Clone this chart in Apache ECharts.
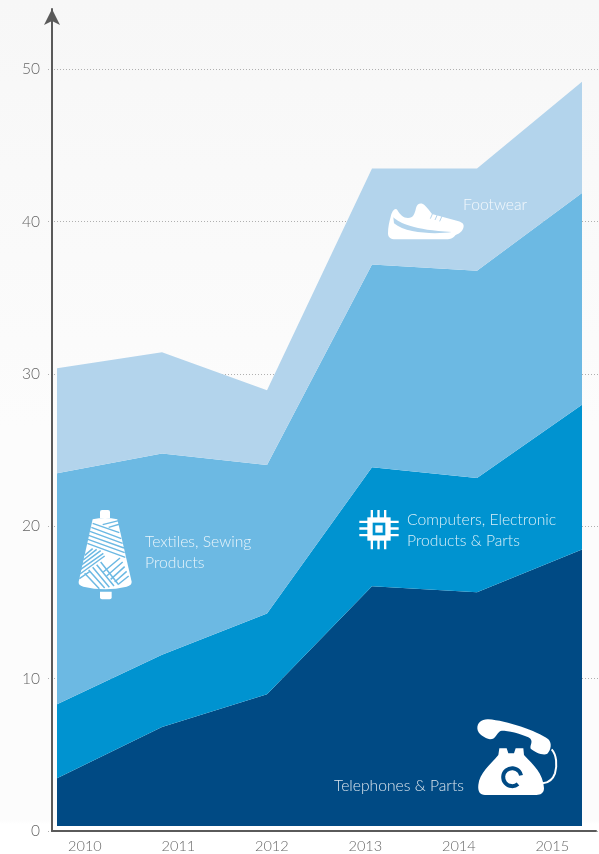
<!DOCTYPE html>
<html>
<head>
<meta charset="utf-8">
<style>html,body{margin:0;padding:0;background:#fff}#main{width:599px;height:854px}</style>
<script src="https://cdn.jsdelivr.net/npm/echarts@6/dist/echarts.min.js"></script>
</head>
<body>
<div id="main"></div>
<script>
var years = ['2010', '2011', '2012', '2013', '2014', '2015'];
var telephones = [3.5, 6.85, 9.0, 16.1, 15.7, 18.5];
var computers = [4.85, 4.75, 5.3, 7.8, 7.5, 9.5];
var textiles = [15.15, 13.2, 9.75, 13.3, 13.6, 13.9];
var footwear = [6.9, 6.65, 4.9, 6.3, 6.7, 7.3];

var darkBlue = '#004a84', midBlue = '#0093d0', skyBlue = '#6cb9e3', paleBlue = '#b3d4ec';
var axisColor = '#5a5a5a', tickColor = '#666666', labelColor = 'rgba(255,255,255,0.85)';

var myChart = echarts.init(document.getElementById('main'));

function area(name, values, color) {
    return {
        name: name,
        type: 'line',
        stack: 'total',
        xAxisIndex: 2,
        yAxisIndex: 2,
        data: values,
        symbol: 'none',
        lineStyle: {width: 0},
        areaStyle: {color: color, opacity: 1}
    };
}

function label(text, x, y) {
    return {
        type: 'text',
        x: x,
        y: y,
        z: 20,
        style: {text: text, fill: labelColor, font: '300 15.7px Lato', lineHeight: 21, textVerticalAlign: 'middle'}
    };
}

// icons are drawn in the 3x coordinates of the zoomed crops
function icon(x, y, children) {
    return {type: 'group', x: x, y: y, scaleX: 1 / 3, scaleY: 1 / 3, children: children};
}
function fill(path, color) {
    return {type: 'path', shape: {pathData: path}, style: {fill: color}};
}
function stroke(path, color, width) {
    return {type: 'path', shape: {pathData: path}, style: {fill: 'none', stroke: color, lineWidth: width}};
}

var phone = icon(440, 700, [
    fill('M112 85C112 68 125 57 145 58C200 62 290 92 325 118C336 128 334 150 322 161C310 168 285 157 272 146C268 136 284 122 265 112C240 100 205 92 185 92C170 94 170 118 150 118C135 115 112 102 112 85Z', '#fff'),
    stroke('M335 148C350 165 352 195 345 220C338 240 325 248 308 250', '#fff', 6),
    fill('M175 165L178 145H200L205 160H222L227 145H250L252 165C280 195 310 220 312 265C312 280 300 285 290 285H135C120 285 113 275 115 255C118 220 150 195 175 165Z', '#fff'),
    stroke('M234 252A27 27 0 1 1 243 226', darkBlue, 12)
]);

var spool = icon(60, 490, [
    fill('M120 66Q120 60 126 60H144Q150 60 150 66V84H120Z', '#fff'),
    fill('M120 305H155V322Q155 328 149 328H126Q120 328 120 322Z', '#fff'),
    fill('M98 88Q135 80 172 88L215 275Q216 285 200 290Q135 305 70 290Q54 285 56 275Z', '#fff'),
    // upper band
    stroke('M98 100L178 128M94 112L184 146M90 124L188 160M86 136L192 174M84 148L194 188M82 160L196 202', skyBlue, 4.5),
    stroke('M128 104L176 92M146 112L180 102', skyBlue, 4),
    // lower left band
    stroke('M74 196L98 176M70 210L110 178M66 224L122 182M62 238L130 190M60 252L134 198M58 266L90 244', skyBlue, 4.5),
    // centre band
    stroke('M74 250L118 296M86 240L134 294M98 232L148 292M110 224L162 288M122 216L176 284', skyBlue, 4.5),
    // lower right band
    stroke('M130 246L180 204M140 258L188 216M152 268L194 230M164 276L200 244M176 282L206 258', skyBlue, 4.5)
]);

var shoe = icon(350, 190, [
    fill('M114 130C114 110 118 95 122 80C126 62 136 52 142 60C150 74 160 84 174 84C190 84 194 72 198 54C202 38 216 38 224 46C232 54 238 62 246 72L326 94C338 98 344 104 340 114C336 128 322 132 316 136C308 148 296 148 286 148H136C122 148 114 142 114 130Z', '#fff'),
    fill('M130 82C150 100 190 120 305 126C270 132 170 134 132 100Z', paleBlue),
    stroke('M248 70L241 86M262 74L255 90M276 78L269 94', paleBlue, 3)
]);

var chip = icon(350, 500, [
    fill('M62 30H69V148H62ZM82 30H89V148H82ZM102 30H109V148H102ZM28 62H146V69H28ZM28 82H146V89H28ZM28 102H146V109H28Z', '#fff'),
    fill('M52 52H122V122H52Z', '#fff'),
    fill('M68 68H106V106H68Z', midBlue),
    fill('M76 76H98V98H76Z', '#fff')
]);

var option = {
    animation: false,
    backgroundColor: {
        type: 'linear', x: 0, y: 0, x2: 0, y2: 1,
        colorStops: [
            {offset: 0, color: '#f7f7f7'},
            {offset: 0.5, color: '#fcfcfc'},
            {offset: 0.96, color: '#fcfcfc'},
            {offset: 0.965, color: '#ffffff'},
            {offset: 1, color: '#ffffff'}
        ]
    },
    grid: [
        {left: 48, right: 0, top: 9, bottom: 23},     // dotted rules and value labels
        {left: 52, right: 3, top: 9, bottom: 23},     // arrow axis and baseline
        {left: 57, width: 525, top: 9, bottom: 28},   // the areas
        {left: 38.2, width: 561.6, top: 9, bottom: 23} // year labels
    ],
    xAxis: [
        {gridIndex: 0, type: 'category', show: false, data: years},
        {
            gridIndex: 1, type: 'category', data: years,
            axisLine: {lineStyle: {color: axisColor, width: 2}},
            axisTick: {show: false}, axisLabel: {show: false}
        },
        {gridIndex: 2, type: 'category', show: false, boundaryGap: false, data: years},
        {
            gridIndex: 3, type: 'category', data: years,
            axisLine: {show: false}, axisTick: {show: false},
            axisLabel: {color: tickColor, fontFamily: 'Lato', fontWeight: 300, fontSize: 14.5, margin: 8}
        }
    ],
    yAxis: [
        {
            gridIndex: 0, type: 'value', min: 0, max: 53.95, interval: 10,
            axisLine: {show: false}, axisTick: {show: false},
            axisLabel: {color: tickColor, fontFamily: 'Lato', fontWeight: 300, fontSize: 15.5, margin: 8, showMaxLabel: false},
            splitLine: {showMaxLine: false, lineStyle: {color: '#b0b0b0', type: [1, 2], width: 1}}
        },
        {
            gridIndex: 1, type: 'value', min: 0, max: 53.95, interval: 10,
            axisLine: {
                show: true, symbol: ['none', 'arrow'], symbolSize: [12, 16], symbolOffset: [0, 0],
                lineStyle: {color: axisColor, width: 2}
            },
            axisTick: {show: false}, axisLabel: {show: false}, splitLine: {show: false}
        },
        {gridIndex: 2, type: 'value', show: false, min: 0.36, max: 53.97, splitLine: {show: false}},
        {gridIndex: 3, type: 'value', show: false, splitLine: {show: false}}
    ],
    series: [
        area('Telephones & Parts', telephones, darkBlue),
        area('Computers, Electronic Products & Parts', computers, midBlue),
        area('Textiles, Sewing Products', textiles, skyBlue),
        area('Footwear', footwear, paleBlue),
        {
            type: 'custom',
            coordinateSystem: 'none',
            silent: true,
            z: 10,
            data: [0],
            renderItem: function () {
                return {type: 'group', children: [phone, spool, shoe, chip]};
            }
        }
    ],
    graphic: [
        label('Footwear', 463, 205),
        label('Textiles, Sewing\nProducts', 145, 552),
        label('Computers, Electronic\nProducts & Parts', 407, 530),
        label('Telephones & Parts', 334, 786)
    ]
};

myChart.setOption(option);
window.onresize = function () { myChart.resize(); };
</script>
</body>
</html>
